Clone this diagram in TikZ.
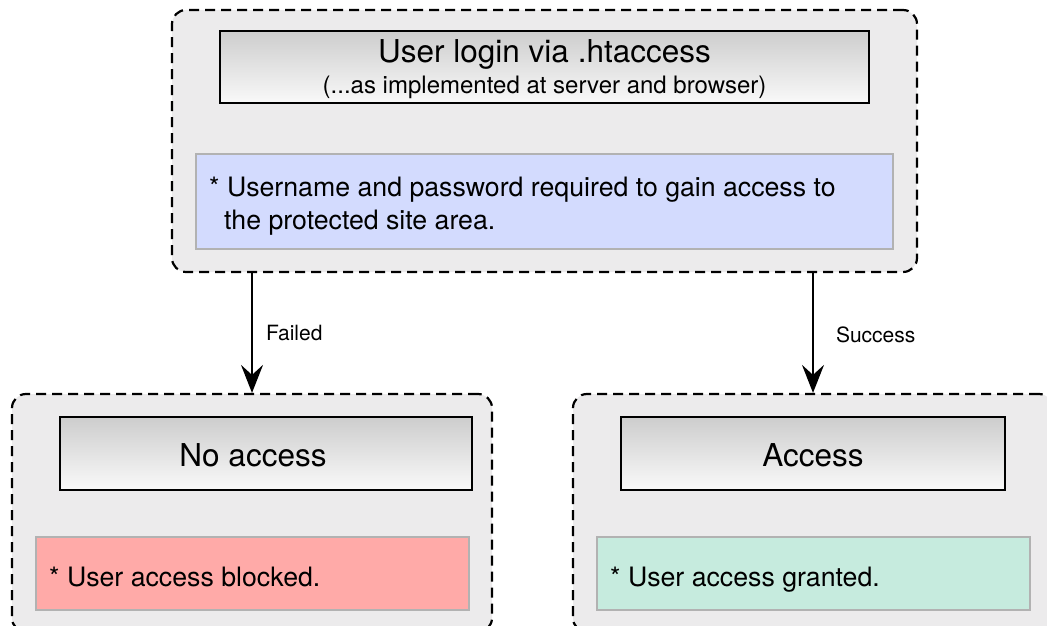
\documentclass[tikz,border=0pt]{standalone}
\usepackage{fontspec}
\setmainfont{TeX Gyre Heros}
\usetikzlibrary{arrows.meta}
\definecolor{panel}{HTML}{ECEBEC}
\definecolor{titletop}{HTML}{CDCDCD}
\definecolor{titlebot}{HTML}{F9F9F9}
\definecolor{notegray}{HTML}{B2B2B2}
\definecolor{noteblue}{HTML}{D3DBFE}
\definecolor{notered}{HTML}{FFAAA8}
\definecolor{notegreen}{HTML}{C6EBDE}
\begin{document}
\begin{tikzpicture}[x=1pt,y=-1pt,
  panelbox/.style={draw=black, line width=2.2pt, dash pattern=on 10pt off 6pt,
    rounded corners=14pt, fill=panel, inner sep=0pt, minimum width=480pt, minimum height=238pt},
  titlebox/.style={draw=black, line width=2pt, top color=titletop, bottom color=titlebot,
    inner sep=0pt, minimum height=73pt},
  titletext/.style={inner sep=0pt, align=center, font=\fontsize{31.5}{32}\selectfont},
  notebox/.style={draw=notegray, line width=2pt, inner sep=0pt,
    minimum width=433pt, minimum height=73pt},
  notetext/.style={inner sep=0pt, anchor=west, align=left, font=\fontsize{26.7}{33}\selectfont},
  arrowline/.style={line width=2pt, -{Stealth[length=28pt,width=22pt,inset=10pt]}},
  edgelabel/.style={font=\fontsize{21}{24}\selectfont, anchor=west, inner sep=0pt}
]
\clip (0,0) rectangle (1047,626);
\useasboundingbox (0,0) rectangle (1047,626);

% top panel
\node[panelbox, minimum width=745pt, minimum height=262pt] (top) at (544.5,141) {};
\node[titlebox, minimum width=649pt, minimum height=72pt] (title) at (544.5,67) {};
\node[titletext] (titlelbl) at ([shift={(0,2.5)}]title.center)
  {User login via .htaccess\\[-1pt]{\fontsize{24}{32}\selectfont (...as implemented at server and browser)}};
\node[notebox, fill=noteblue, minimum width=697pt, minimum height=95pt] (req) at (544.5,201.5) {};
\node[notetext] (reqlbl) at ([shift={(14,4.5)}]req.west)
  {* Username and password required to gain access to\\\hspace*{15pt}the protected site area.};

% bottom panels
\node[panelbox] (fail) at (252,513) {};
\node[panelbox] (ok) at (813,513) {};

\node[titlebox, minimum width=412pt] (noacc) at (266,453.5) {};
\node[titletext] (noacclbl) at ([shift={(-13,1.5)}]noacc.center) {No access};
\node[titlebox, minimum width=384pt] (acc) at (813,453.5) {};
\node[titletext] (acclbl) at ([shift={(0,1.5)}]acc.center) {Access};

\node[notebox, fill=notered] (blocked) at (252.5,573.5) {};
\node[notetext] (blockedlbl) at ([shift={(14,3.5)}]blocked.west) {* User access blocked.};
\node[notebox, fill=notegreen] (granted) at (813.5,573.5) {};
\node[notetext] (grantedlbl) at ([shift={(14,6.3)}]granted.west) {* User access granted.};

% connectors
\draw[arrowline] (top.south -| fail.north) -- (fail.north)
  node[edgelabel, midway, xshift=13pt] (lfail) {Failed};
\draw[arrowline] (top.south -| ok.north) -- (ok.north)
  node[edgelabel, midway, xshift=22pt, yshift=-2pt] (lok) {Success};
\end{tikzpicture}
\end{document}
